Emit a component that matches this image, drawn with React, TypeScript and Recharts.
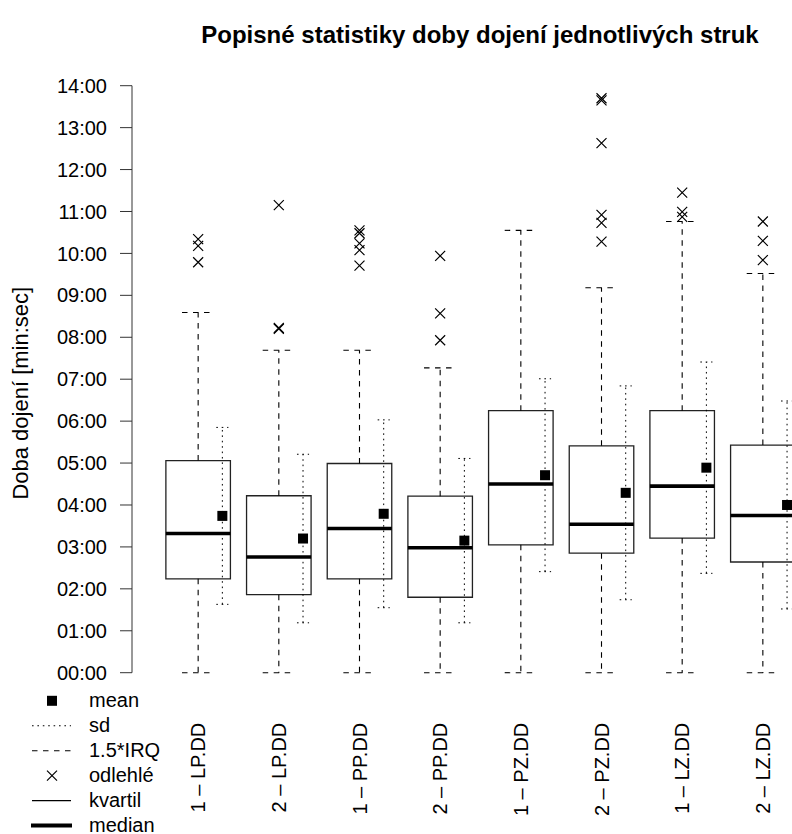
import React from "react";
import {
  ComposedChart,
  XAxis,
  YAxis,
  Scatter,
  ReferenceArea,
  ReferenceLine,
} from "recharts";

// values in minutes
const categories = [
  "1 – LP.DD",
  "2 – LP.DD",
  "1 – PP.DD",
  "2 – PP.DD",
  "1 – PZ.DD",
  "2 – PZ.DD",
  "1 – LZ.DD",
  "2 – LZ.DD",
];
const lowerWhisker = [0, 0, 0, 0, 0, 0, 0, 0];
const q1 = [2.24, 1.86, 2.24, 1.8, 3.05, 2.85, 3.21, 2.64];
const median = [3.32, 2.76, 3.44, 2.98, 4.5, 3.54, 4.45, 3.75];
const q3 = [5.06, 4.22, 4.99, 4.21, 6.25, 5.41, 6.25, 5.43];
const upperWhisker = [8.59, 7.69, 7.69, 7.27, 10.55, 9.18, 10.76, 9.52];
const means = [3.74, 3.2, 3.79, 3.15, 4.71, 4.29, 4.89, 4.0];
const sds = [2.11, 2.01, 2.24, 1.96, 2.3, 2.55, 2.52, 2.48];
const outliers = [
  [10.34, 10.18, 9.79],
  [11.15, 8.22, 8.2],
  [10.55, 10.48, 10.24, 10.08, 9.71],
  [9.94, 8.57, 7.93],
  [],
  [13.7, 13.65, 12.63, 10.92, 10.73, 10.28],
  [11.45, 10.99, 10.87],
  [10.76, 10.3, 9.84],
];
const yTicks = [0, 1, 2, 3, 4, 5, 6, 7, 8, 9, 10, 11, 12, 13, 14];
const xTicks = [1, 2, 3, 4, 5, 6, 7, 8];

const legendItems = [
  { label: "mean", kind: "square" },
  { label: "sd", kind: "dotted" },
  { label: "1.5*IRQ", kind: "dashed" },
  { label: "odlehlé", kind: "cross" },
  { label: "kvartil", kind: "thin" },
  { label: "median", kind: "thick" },
];

const FONT = "'Liberation Sans', Arial, Helvetica, sans-serif";
const BOX_HALF = 0.4;
const CAP_HALF = 0.2;
const SD_OFFSET = 0.3;
const SD_CAP = 0.075;
const DASH = "5.5 5.5";
const DOT = "1.6 3.8";

const outlierPoints = outliers.flatMap((vals, i) =>
  vals.map((v) => ({ x: i + 1, y: v }))
);
const meanPoints = means.map((m, i) => ({ x: i + 1 + SD_OFFSET, y: m }));

const CrossShape = (props: any) => {
  const { cx, cy } = props;
  const r = 5;
  return (
    <path
      d={`M${cx - r},${cy - r}L${cx + r},${cy + r}M${cx - r},${cy + r}L${cx + r},${cy - r}`}
      stroke="#000"
      strokeWidth={1.2}
      fill="none"
    />
  );
};

const SquareShape = (props: any) => {
  const { cx, cy } = props;
  return <rect x={cx - 5} y={cy - 5} width={10} height={10} fill="#000" />;
};

const XTick = (props: any) => {
  const { x, y, payload } = props;
  const ty = y + 50;
  return (
    <text
      x={x}
      y={ty}
      dy="0.36em"
      transform={`rotate(-90, ${x}, ${ty})`}
      textAnchor="end"
      fontSize={20}
      fontFamily={FONT}
      fill="#000"
    >
      {categories[payload.value - 1]}
    </text>
  );
};

const fmtTime = (v: number) => `${String(v).padStart(2, "0")}:00`;

function YLabel(props: any) {
  const vb = props.viewBox || {};
  const cx = 20;
  const cy = (vb.y ?? 0) + (vb.height ?? 0) / 2 + 14;
  return (
    <text
      x={cx}
      y={cy}
      dy="0.36em"
      transform={`rotate(-90, ${cx}, ${cy})`}
      textAnchor="middle"
      fontSize={22}
      fontFamily={FONT}
      fill="#000"
    >
      Doba dojení [min:sec]
    </text>
  );
}

function LegendSymbol({ kind, cy }: { kind: string; cy: number }) {
  const x1 = 32;
  const x2 = 71;
  const cx = 52;
  switch (kind) {
    case "square":
      return <rect x={cx - 5} y={cy - 5} width={10} height={10} fill="#000" />;
    case "dotted":
      return <line x1={x1} x2={x2} y1={cy} y2={cy} stroke="#000" strokeWidth={1} strokeDasharray={DOT} />;
    case "dashed":
      return <line x1={x1} x2={x2} y1={cy} y2={cy} stroke="#000" strokeWidth={1.1} strokeDasharray={DASH} />;
    case "cross":
      return <CrossShape cx={cx} cy={cy} />;
    case "thin":
      return <line x1={x1} x2={x2} y1={cy} y2={cy} stroke="#000" strokeWidth={1.2} />;
    default:
      return <line x1={x1 - 1} x2={x2 + 1} y1={cy} y2={cy} stroke="#000" strokeWidth={4} />;
  }
}

export default function App() {
  const boxes = categories.map((_, i) => {
    const c = i + 1;
    const s = c + SD_OFFSET;
    return [
      <ReferenceArea
        key={`box${i}`}
        x1={c - BOX_HALF}
        x2={c + BOX_HALF}
        y1={q1[i]}
        y2={q3[i]}
        fill="#fff"
        fillOpacity={0}
        stroke="#222"
        strokeWidth={1.3}
        strokeOpacity={1}
      />,
      <ReferenceLine
        key={`med${i}`}
        segment={[{ x: c - BOX_HALF, y: median[i] }, { x: c + BOX_HALF, y: median[i] }]}
        stroke="#000"
        strokeWidth={3.6}
      />,
      <ReferenceLine
        key={`wu${i}`}
        segment={[{ x: c, y: q3[i] }, { x: c, y: upperWhisker[i] }]}
        stroke="#000"
        strokeWidth={1.1}
        strokeDasharray={DASH}
      />,
      <ReferenceLine
        key={`wl${i}`}
        segment={[{ x: c, y: q1[i] }, { x: c, y: lowerWhisker[i] }]}
        stroke="#000"
        strokeWidth={1.1}
        strokeDasharray={DASH}
      />,
      <ReferenceLine
        key={`cu${i}`}
        segment={[{ x: c - CAP_HALF, y: upperWhisker[i] }, { x: c + CAP_HALF, y: upperWhisker[i] }]}
        stroke="#000"
        strokeWidth={1.1}
        strokeDasharray={DASH}
      />,
      <ReferenceLine
        key={`cl${i}`}
        segment={[{ x: c - CAP_HALF, y: lowerWhisker[i] }, { x: c + CAP_HALF, y: lowerWhisker[i] }]}
        stroke="#000"
        strokeWidth={1.1}
        strokeDasharray={DASH}
      />,
      <ReferenceLine
        key={`sd${i}`}
        segment={[{ x: s, y: means[i] - sds[i] }, { x: s, y: means[i] + sds[i] }]}
        stroke="#000"
        strokeWidth={1}
        strokeDasharray={DOT}
      />,
      <ReferenceLine
        key={`sdu${i}`}
        segment={[{ x: s - SD_CAP, y: means[i] + sds[i] }, { x: s + SD_CAP, y: means[i] + sds[i] }]}
        stroke="#000"
        strokeWidth={1}
        strokeDasharray={DOT}
      />,
      <ReferenceLine
        key={`sdl${i}`}
        segment={[{ x: s - SD_CAP, y: means[i] - sds[i] }, { x: s + SD_CAP, y: means[i] - sds[i] }]}
        stroke="#000"
        strokeWidth={1}
        strokeDasharray={DOT}
      />,
    ];
  });

  return (
    <div
      style={{
        position: "absolute",
        left: 0,
        top: 0,
        width: 792,
        height: 834,
        overflow: "hidden",
        background: "#fff",
        fontFamily: FONT,
      }}
    >
      <ComposedChart
        width={840}
        height={834}
        margin={{ top: 85.7, right: 11, bottom: 0, left: 0 }}
      >
        <XAxis
          dataKey="x"
          type="number"
          domain={[0.18, 8.82]}
          ticks={xTicks}
          interval={0}
          allowDataOverflow
          axisLine={false}
          tickLine={false}
          tickSize={0}
          tickMargin={0}
          height={161.3}
          tick={<XTick />}
        />
        <YAxis
          dataKey="y"
          type="number"
          domain={[0, 14]}
          ticks={yTicks}
          interval={0}
          allowDataOverflow
          width={132}
          tickSize={12}
          tickMargin={13}
          tickFormatter={fmtTime}
          stroke="#333"
          tick={{ fill: "#000", fontSize: 20, fontFamily: FONT }}
          label={{ content: <YLabel /> }}
        />
        {boxes}
        <Scatter
          data={outlierPoints}
          dataKey="y"
          shape={<CrossShape />}
          isAnimationActive={false}
        />
        <Scatter
          data={meanPoints}
          dataKey="y"
          shape={<SquareShape />}
          isAnimationActive={false}
        />
      </ComposedChart>
      <svg
        width={792}
        height={834}
        style={{ position: "absolute", left: 0, top: 0, pointerEvents: "none" }}
      >
        <text
          x={480}
          y={43}
          textAnchor="middle"
          fontSize={24}
          fontWeight="bold"
          fontFamily={FONT}
          fill="#000"
        >
          Popisné statistiky doby dojení jednotlivých struk
        </text>
        {legendItems.map((item, i) => {
          const base = 706.8 + i * 24.95;
          return (
            <g key={item.label}>
              <LegendSymbol kind={item.kind} cy={base - 6} />
              <text x={89} y={base} fontSize={20} fontFamily={FONT} fill="#000">
                {item.label}
              </text>
            </g>
          );
        })}
      </svg>
    </div>
  );
}
